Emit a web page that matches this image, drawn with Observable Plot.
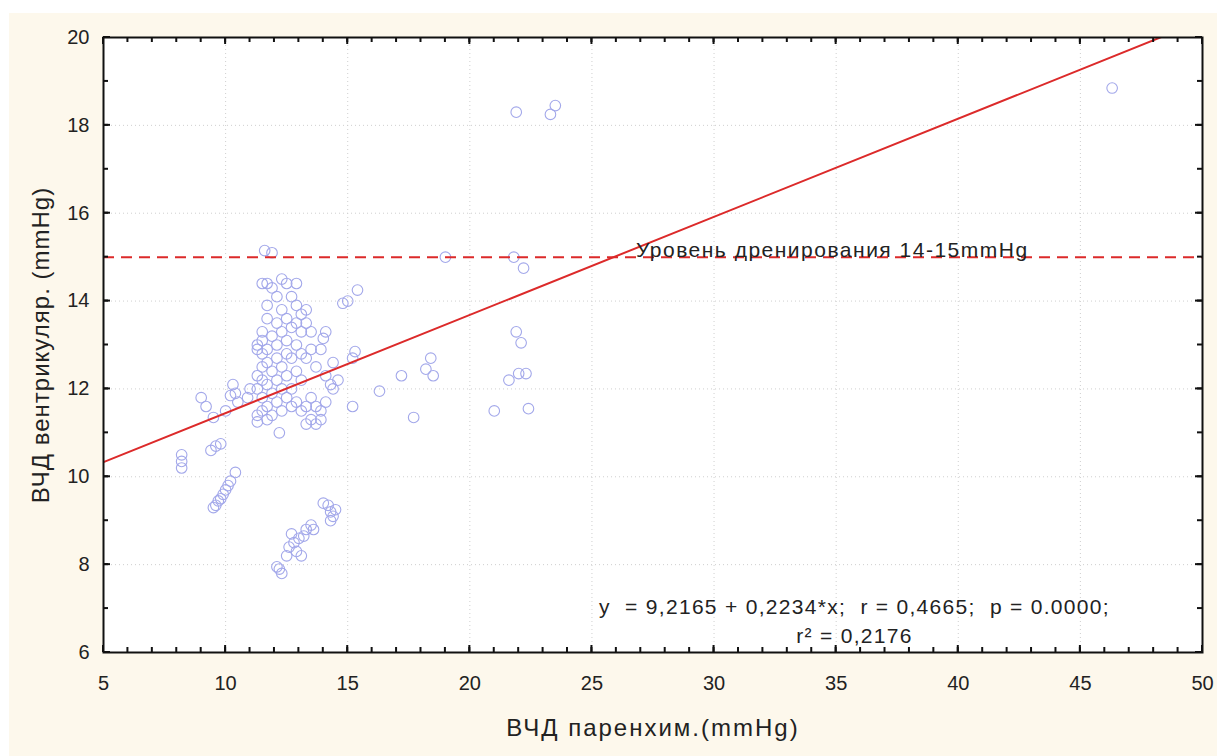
<!DOCTYPE html>
<html>
<head>
<meta charset="utf-8">
<script src="https://cdn.jsdelivr.net/npm/d3@7"></script>
<script src="https://cdn.jsdelivr.net/npm/@observablehq/plot@0.6"></script>
<style>
  html, body { margin: 0; padding: 0; background: #ffffff; }
  #wrap { position: relative; width: 1217px; height: 756px; overflow: hidden; }
  #panel { position: absolute; left: 9px; top: 13px; width: 1208px; height: 743px; background: #fdf8ec; }
  #chart { position: absolute; left: 0; top: 0; }
  #chart svg { background: transparent; }
</style>
</head>
<body>
<div id="wrap">
  <div id="panel"></div>
  <div id="chart"></div>
</div>
<script>
// Parenchymal ICP (x, mmHg) vs ventricular ICP (y, mmHg)
const parenchymal = [
  // main cluster
  11.3, 11.3, 11.3, 11.3, 11.3, 11.3,
  11.5, 11.5, 11.5, 11.5, 11.5, 11.5, 11.5, 11.5,
  11.7, 11.7, 11.7, 11.7, 11.7, 11.7, 11.7, 11.7,
  11.9, 11.9, 11.9, 11.9, 11.9, 11.9, 11.6,
  12.1, 12.1, 12.1, 12.1, 12.1, 12.1,
  12.3, 12.3, 12.3, 12.3, 12.3, 12.3, 12.2,
  12.5, 12.5, 12.5, 12.5, 12.5, 12.5,
  12.7, 12.7, 12.7, 12.7, 12.7,
  12.9, 12.9, 12.9, 12.9, 12.9, 12.9,
  13.1, 13.1, 13.1, 13.1, 13.1,
  13.3, 13.3, 13.3, 13.3, 13.3,
  13.5, 13.5, 13.5, 13.5,
  13.7, 13.7, 13.7,
  13.9, 13.9, 13.9,
  14.1, 14.1, 14.1, 14.0,
  14.4, 14.4, 14.6, 14.3,
  14.8, 15.0, 15.4, 15.3, 15.2, 15.2,
  // left group
  10.9, 11.0, 10.2, 10.3, 10.5, 10.0, 10.4,
  9.0, 9.2, 9.5, 9.4, 9.6, 9.8,
  8.2, 8.2, 8.2,
  9.5, 9.6, 9.7, 9.8, 9.9, 10.0, 10.1, 10.2, 10.4,
  // low group
  12.1, 12.2, 12.3, 12.5, 12.6, 12.8, 12.9, 13.0, 13.1, 13.3, 13.2, 12.7, 13.5, 13.6,
  14.0, 14.2, 14.3, 14.4, 14.3, 14.5,
  // right side
  16.3, 17.2, 17.7, 18.2, 18.5, 18.4,
  19.0, 21.8, 22.2, 21.9, 22.1, 21.6, 22.0, 22.3, 21.0, 22.4,
  21.9, 23.3, 23.5, 46.3
];
const ventricular = [
  13.0, 12.9, 12.3, 12.0, 11.4, 11.25,
  14.4, 13.3, 13.1, 12.8, 12.5, 12.2, 11.8, 11.5,
  14.4, 13.9, 13.6, 12.9, 12.6, 12.1, 11.6, 11.3,
  15.1, 14.3, 13.2, 12.4, 11.9, 11.4, 15.15,
  14.1, 13.5, 13.0, 12.7, 12.2, 11.7,
  14.5, 13.8, 13.3, 12.5, 12.0, 11.5, 11.0,
  14.4, 13.6, 13.1, 12.8, 12.3, 11.8,
  14.1, 13.4, 12.7, 12.0, 11.6,
  14.4, 13.9, 13.5, 13.0, 12.4, 11.7,
  13.7, 13.3, 12.8, 12.2, 11.5,
  13.8, 13.5, 12.7, 11.6, 11.2,
  13.3, 12.9, 11.8, 11.3,
  11.6, 11.2, 12.5,
  12.9, 11.5, 11.3,
  13.3, 12.3, 11.7, 13.15,
  12.0, 12.6, 12.2, 12.1,
  13.95, 14.0, 14.25, 12.85, 12.7, 11.6,
  11.8, 12.0, 11.85, 12.1, 11.7, 11.5, 11.9,
  11.8, 11.6, 11.35, 10.6, 10.7, 10.75,
  10.5, 10.35, 10.2,
  9.3, 9.35, 9.45, 9.5, 9.6, 9.7, 9.8, 9.9, 10.1,
  7.95, 7.9, 7.8, 8.2, 8.4, 8.5, 8.3, 8.6, 8.2, 8.8, 8.65, 8.7, 8.9, 8.8,
  9.4, 9.35, 9.2, 9.1, 9.0, 9.25,
  11.95, 12.3, 11.35, 12.45, 12.3, 12.7,
  15.0, 15.0, 14.75, 13.3, 13.05, 12.2, 12.35, 12.35, 11.5, 11.55,
  18.3, 18.25, 18.45, 18.85
];
const points = parenchymal.map((x, i) => ({x, y: ventricular[i]}));

// Linear fit and drainage threshold
const intercept = 9.2165;
const slope = 0.2234;
const drainageLevel = 15;
const fitX = [5, 50];
const fitLine = fitX.map(x => ({x, y: intercept + slope * x}));

const xMajor = [5, 10, 15, 20, 25, 30, 35, 40, 45, 50];
const yMajor = [6, 8, 10, 12, 14, 16, 18, 20];
const xMinor = d3.range(5, 51, 1);
const yMinor = d3.range(6, 21, 1);

const xTitle = "ВЧД паренхим.(mmHg)";
const yTitle = "ВЧД вентрикуляр. (mmHg)";
const drainageLabel = "Уровень дренирования 14-15mmHg";
const fitLabel = "y  = 9,2165 + 0,2234*x;  r = 0,4665;  p = 0.0000;";
const r2Label = "r² = 0,2176";

const font = "'Liberation Sans', Arial, sans-serif";
const ink = "#222";

const chart = Plot.plot({
  width: 1217,
  height: 756,
  marginLeft: 103,
  marginTop: 37,
  marginRight: 15,
  marginBottom: 104,
  style: {fontFamily: font, background: "transparent", color: ink},
  x: {domain: [5, 50]},
  y: {domain: [6, 20]},
  marks: [
    Plot.frame({fill: "white", stroke: null}),
    Plot.gridX(xMajor, {stroke: "#cfcfcf", strokeOpacity: 1, strokeDasharray: "1,3"}),
    Plot.gridY(yMajor, {stroke: "#cfcfcf", strokeOpacity: 1, strokeDasharray: "1,3"}),
    Plot.dot(points, {x: "x", y: "y", r: 5.3, stroke: "#a3a8ea", strokeWidth: 1.1, fill: "none"}),
    Plot.line(fitLine, {x: "x", y: "y", stroke: "#dc2a2a", strokeWidth: 2, clip: true}),
    Plot.ruleY([drainageLevel], {stroke: "#dc2a2a", strokeWidth: 2, strokeDasharray: "11,7"}),
    Plot.text([drainageLabel], {x: 26.8, y: drainageLevel, dy: -7, text: d => d, textAnchor: "start",
      fontSize: 21, fill: "#222"}),
    Plot.text([fitLabel], {x: 35.75, y: 7.02, text: d => d, fontSize: 21, fill: ink}),
    Plot.text([r2Label], {x: 35.75, y: 6.36, text: d => d, fontSize: 21, fill: ink}),
    // tick labels
    Plot.axisX(xMajor, {anchor: "bottom", tickSize: 0, tickPadding: 23, fontSize: 20, fill: ink, label: null}),
    Plot.axisY(yMajor, {anchor: "left", tickSize: 0, tickPadding: 14, fontSize: 20, fill: ink, label: null}),
    // axis titles
    Plot.text([xTitle], {frameAnchor: "bottom", dy: 83, text: d => d, fontSize: 24, fill: ink}),
    Plot.text([yTitle], {frameAnchor: "left", dx: -62, rotate: -90, textAnchor: "middle", text: d => d, fontSize: 24, fill: ink}),
    Plot.frame({stroke: "#111", strokeWidth: 2})
  ]
});

// inward tick marks on all four sides, placed with the chart's own scales
const sx = chart.scale("x"), sy = chart.scale("y");
const [x0, x1] = sx.range, [y0, y1] = sy.range; // y0 bottom, y1 top
const tickLayer = d3.select(chart).append("g").attr("stroke", "#111").attr("fill", "none");
const addTicks = (values, len, width) => {
  for (const v of values) {
    const px = sx.apply(v);
    tickLayer.append("line").attr("x1", px).attr("x2", px).attr("y1", y0).attr("y2", y0 - len).attr("stroke-width", width);
    tickLayer.append("line").attr("x1", px).attr("x2", px).attr("y1", y1).attr("y2", y1 + len).attr("stroke-width", width);
  }
};
const addTicksY = (values, len, width) => {
  for (const v of values) {
    const py = sy.apply(v);
    tickLayer.append("line").attr("y1", py).attr("y2", py).attr("x1", x0).attr("x2", x0 + len).attr("stroke-width", width);
    tickLayer.append("line").attr("y1", py).attr("y2", py).attr("x1", x1).attr("x2", x1 - len).attr("stroke-width", width);
  }
};
addTicks(xMinor, 5, 2);
addTicksY(yMinor, 5, 2);
addTicks(xMajor, 7, 2);
addTicksY(yMajor, 7, 2);

// letter spacing for the wider-set labels
const spacing = new Map([
  [drainageLabel, "1.5px"], [fitLabel, "1.3px"], [r2Label, "1.3px"],
  [xTitle, "2px"], [yTitle, "1px"]
]);
d3.select(chart).selectAll("text").each(function() {
  const s = spacing.get(this.textContent);
  if (s) this.setAttribute("letter-spacing", s);
});

document.getElementById("chart").appendChild(chart);
</script>
</body>
</html>
